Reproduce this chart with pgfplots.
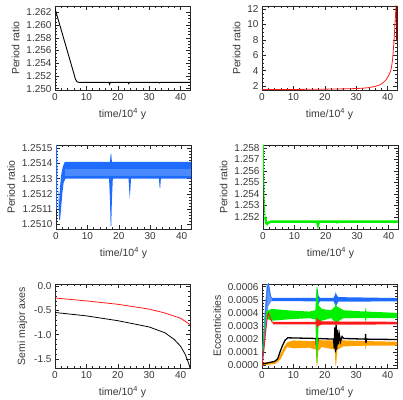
\documentclass[border=0pt]{standalone}
\usepackage{fontspec}
\setmainfont{Liberation Sans}
\usepackage{pgfplots}
\pgfplotsset{compat=1.18}
\definecolor{idlblue}{HTML}{1E6BFF}
\definecolor{idlgreen}{HTML}{00F000}
\definecolor{idlred}{HTML}{FF1A1A}
\definecolor{idlorange}{HTML}{FFA200}

\pgfplotsset{
  idl/.style={
    scale only axis, width=135pt, height=84pt,
    xmin=0, xmax=43, xtick={0,10,20,30,40}, minor x tick num=4,
    tick align=inside, major tick length=4pt, minor tick length=2pt,
    axis line style={line width=0.7pt, black!85},
    every tick/.style={black!85, line width=0.5pt},
    scaled ticks=false,
    /pgf/number format/assume math mode=true,
    tick label style={font=\fontsize{10}{12}\selectfont, text=black!78},
    label style={font=\fontsize{10.5}{12}\selectfont, text=black!78},
    xlabel={time/10\textsuperscript{4} y},
    ylabel={Period ratio},
    xlabel style={yshift=-1pt},
    clip=true,
  },
}

\begin{document}
\begin{tikzpicture}
\path[use as bounding box] (0,0) rectangle (403pt,399pt);

% top left
\begin{axis}[idl, at={(55pt,309pt)}, anchor=south west,
  ymin=1.2498, ymax=1.2630,
  ytick={1.250,1.252,1.254,1.256,1.258,1.260,1.262}, minor y tick num=3,
  yticklabel style={/pgf/number format/.cd, fixed, precision=3, fixed zerofill}]
\addplot[black, line width=0.9pt] coordinates {
(0,1.2626) (1,1.2609) (2,1.2592) (3,1.2575) (4,1.2558) (5,1.2541) (6,1.2524)
(6.5,1.2515) (7,1.2511) (7.6,1.2510) (17.2,1.2510) (17.4,1.2507) (17.6,1.2510)
(23.3,1.2510) (23.5,1.2508) (23.7,1.2510) (33,1.2510) (33.2,1.2509) (33.4,1.2510) (43,1.2510)};
\end{axis}

% top right
\begin{axis}[idl, at={(262pt,309pt)}, anchor=south west,
  ymin=1.49, ymax=12.4,
  ytick={2,4,6,8,10,12}, minor y tick num=3]
\addplot[idlred, line width=0.8pt] coordinates {
(0,1.55) (10,1.56) (20,1.60) (28,1.65) (32,1.72) (34,1.80) (36,1.95) (37.5,2.15)
(38.6,2.45) (39.5,2.80) (40.4,3.40) (41,4.0) (41.3,4.6) (41.6,5.5) (41.8,6.5)
(42.1,8.2) (42.4,10.4) (42.7,12.5)};
\addplot[red!60!black, line width=0.9pt] coordinates {(42.9,8) (42.9,12.4)};
\end{axis}

% middle left
\begin{axis}[idl, at={(56pt,170pt)}, anchor=south west,
  ymin=1.25097, ymax=1.25152,
  ytick={1.2510,1.2511,1.2512,1.2513,1.2514,1.2515}, minor y tick num=4,
  yticklabel style={/pgf/number format/.cd, fixed, precision=4, fixed zerofill}]
\addplot[fill=idlblue, draw=none] coordinates {
(0.3,1.25150) (0.6,1.25128) (0.9,1.25112) (1.3,1.25125) (1.7,1.25133) (2.2,1.25138)
(2.8,1.25141) (17.2,1.25141) (17.4,1.25146) (17.6,1.25146) (17.8,1.25141) (43,1.25141)
(43,1.25130) (33.4,1.25130) (33.2,1.25124) (33.0,1.25124) (32.8,1.25130)
(23.9,1.25130) (23.6,1.25120) (23.5,1.25117) (23.4,1.25120) (23.1,1.25130)
(18.1,1.25130) (17.8,1.25116) (17.6,1.25099) (17.4,1.25099) (17.2,1.25116) (16.9,1.25130)
(3,1.25130) (2.4,1.25127) (2.0,1.25120) (1.6,1.25110) (1.3,1.25103) (1.0,1.25103)
(0.7,1.25120) (0.4,1.25140)};
\addplot[fill=idlblue!80!white, draw=none] coordinates {
(3,1.25132) (43,1.25132) (43,1.25136) (3,1.25136)};
\addplot[idlblue, line width=0.6pt] coordinates {(0.2,1.25110) (0.2,1.25152)};
\end{axis}

% middle right
\begin{axis}[idl, at={(263pt,170pt)}, anchor=south west,
  ymin=1.25096, ymax=1.25826,
  ytick={1.252,1.253,1.254,1.255,1.256,1.257,1.258}, minor y tick num=3,
  yticklabel style={/pgf/number format/.cd, fixed, precision=3, fixed zerofill}]
\addplot[idlgreen, line width=0.8pt] coordinates {(0.15,1.2583) (0.2,1.2560) (0.4,1.2530) (0.7,1.2520)};
\addplot[idlgreen, line width=2.4pt] coordinates {
(0.7,1.2520) (1.0,1.2515) (1.3,1.2514) (1.7,1.2515) (2.5,1.2516) (17.2,1.2516)
(17.5,1.2513) (17.8,1.2516) (23.4,1.2516) (23.6,1.25155) (23.8,1.2516) (43,1.2516)};
\end{axis}

% bottom left
\begin{axis}[idl, at={(55pt,31pt)}, anchor=south west,
  ymin=-1.69, ymax=0.05, ylabel={Semi major axes},
  ytick={-1.5,-1.0,-0.5,0.0}, minor y tick num=4,
  yticklabel style={/pgf/number format/.cd, fixed, precision=1, fixed zerofill}]
\addplot[idlred, line width=0.8pt] coordinates {
(0,-0.24) (10,-0.30) (20,-0.37) (30,-0.47) (35,-0.55) (40,-0.66) (43,-0.79)};
\addplot[black, line width=0.8pt] coordinates {
(0,-0.54) (10,-0.61) (20,-0.71) (30,-0.84) (35,-0.96) (38,-1.10) (40,-1.24)
(41.5,-1.41) (42.5,-1.58) (43,-1.69)};
\end{axis}

% bottom right
\begin{axis}[idl, at={(262pt,31pt)}, anchor=south west,
  ymin=-0.00002, ymax=0.00062, ylabel={Eccentricities},
  ytick={0,0.0001,0.0002,0.0003,0.0004,0.0005,0.0006}, minor y tick num=3,
  yticklabel style={/pgf/number format/.cd, fixed, precision=4, fixed zerofill}]
% orange band
\addplot[fill=idlorange, draw=none] coordinates {
(0,0.00002) (4,0.00003) (5,0.00005) (6,0.00009) (7,0.00014) (8,0.000175) (10,0.00019)
(15,0.000185) (17.2,0.000185) (17.4,0.00025) (17.6,0.00025) (17.9,0.00020) (19,0.00019)
(23.2,0.00019) (23.4,0.00024) (23.6,0.00024) (24,0.00021) (26,0.00019) (32.8,0.000185)
(33,0.00021) (33.2,0.000185) (43,0.000180)
(43,0.000150) (33.2,0.000150) (33,0.00012) (32.8,0.000150) (26,0.000145) (24,0.00012)
(23.6,0.0) (23.4,0.0) (23.2,0.00012) (19,0.00014) (17.9,0.00011) (17.6,0.0) (17.4,0.0)
(17.2,0.00012) (15,0.000135) (10,0.000130) (8,0.000140) (7,0.00010) (6,0.00005)
(5,0.000025) (4,0.00001) (0,0.0)};
% black line
\addplot[black, line width=1.3pt] coordinates {
(0,0.00001) (2,0.00002) (4,0.00003) (5,0.00005) (5.7,0.0001) (6.5,0.00015) (7.3,0.00019)
(8.2,0.00021) (17.2,0.000205) (17.35,0.00015) (17.5,0.00027) (17.65,0.00016) (17.8,0.000205)
(22.8,0.00020) (23.0,0.00013) (23.2,0.00029) (23.4,0.00010) (23.6,0.00031) (23.8,0.00012)
(24.0,0.00027) (24.3,0.00016) (24.6,0.00024) (25,0.00018) (25.5,0.00022) (26,0.000205)
(32.9,0.0002) (33.0,0.00024) (33.1,0.00017) (33.3,0.0002) (43,0.000197)};
% blue
\addplot[fill=idlblue!70!white, draw=none] coordinates {
(0.5,0.0003) (1.5,0.00062) (2.2,0.00062) (3,0.000515) (3,0.00049) (2,0.00045) (1,0.00020) (0.3,0.00003)};
\addplot[idlblue, line width=0.7pt] coordinates {
(0,0.0) (0.3,0.00012) (0.6,0.00022) (0.9,0.00030) (1.2,0.00042) (1.5,0.00052)
(1.8,0.00060) (2.1,0.00062) (2.5,0.00055) (3,0.00051)};
\addplot[fill=idlblue, draw=none] coordinates {
(3,0.000515) (17.3,0.000515) (17.5,0.00058) (17.7,0.00058) (18,0.00053) (18.5,0.000515)
(22.8,0.000515) (23.3,0.00054) (23.5,0.00056) (23.7,0.00054) (24.3,0.00052) (43,0.000513)
(43,0.000488) (24.3,0.000485) (23.7,0.00046) (23.5,0.00044) (23.3,0.00046) (22.8,0.000488)
(18.5,0.000488) (18,0.00047) (17.7,0.00044) (17.5,0.00044) (17.3,0.000488) (3,0.00049)};
% green
\addplot[idlgreen, line width=0.7pt] coordinates {
(0,0.0001) (0.5,0.00022) (1,0.00034) (1.5,0.00040)};
\addplot[fill=idlgreen, draw=none] coordinates {
(1.2,0.00041) (3,0.00043) (8,0.00042) (15,0.00041) (17,0.00042) (17.4,0.00060) (17.6,0.00060)
(18,0.00046) (19,0.00043) (22,0.00042) (23.3,0.00045) (23.5,0.00048) (23.8,0.00045)
(26,0.00042) (32.8,0.00041) (33,0.00044) (33.3,0.00041) (43,0.00040)
(43,0.00036) (33.3,0.00036) (33,0.00033) (32.8,0.00036) (26,0.00036) (23.8,0.00033)
(23.5,0.00030) (23.3,0.00033) (22,0.00036) (19,0.00034) (18,0.00030) (17.6,0.00002)
(17.4,0.00002) (17,0.00035) (15,0.00036) (8,0.00035) (3,0.00034) (1.2,0.00036)};
% red
\addplot[idlred, line width=0.9pt] coordinates {
(0,0.0) (0.5,0.0001) (1,0.00022) (1.5,0.00033) (2,0.00040) (2.5,0.00037) (3.2,0.00033) (4,0.00032)};
\addplot[fill=idlred, draw=none] coordinates {
(3.5,0.000332) (17.3,0.000332) (17.5,0.00037) (17.8,0.00035) (19,0.000335) (43,0.000332)
(43,0.000312) (19,0.000310) (17.8,0.00030) (17.5,0.00028) (17.3,0.000312) (3.5,0.000312)};
\end{axis}
\end{tikzpicture}
\end{document}
